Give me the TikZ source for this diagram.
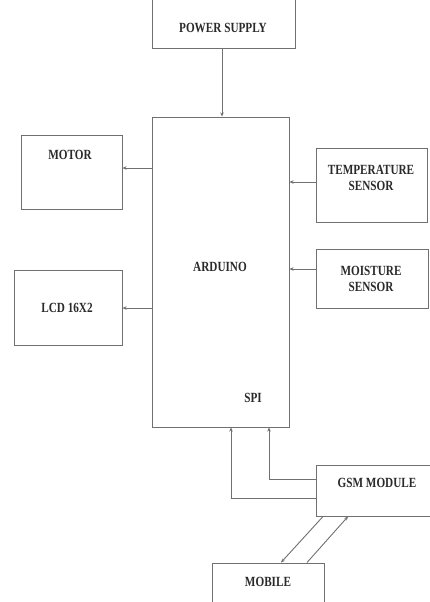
\documentclass[tikz,border=0pt]{standalone}
\usepackage{fontspec}
\setmainfont{Liberation Serif}[FakeStretch=0.8]
\usetikzlibrary{arrows.meta}
\definecolor{linegray}{HTML}{707070}
\definecolor{txtgray}{HTML}{2A2A2A}
\begin{document}
\begin{tikzpicture}[x=1pt,y=1pt,
  box/.style={draw=linegray, line width=1pt, inner sep=0pt, fill=none},
  lbl/.style={text=txtgray, font=\bfseries\fontsize{14}{16}\selectfont, align=center, inner sep=0pt},
  arr/.style={draw=linegray, line width=0.9pt, -{Stealth[length=4pt,width=3.5pt]}}]
\useasboundingbox (0,0) rectangle (429,-602);
\fill[white] (0,0) rectangle (429,-602);
% boxes
\node[box, minimum width=143pt, minimum height=60pt] (ps) at (223.5,-19) {};
\node[box, minimum width=137pt, minimum height=310pt] (ard) at (220.5,-272) {};
\node[box, minimum width=101pt, minimum height=74pt] (motor) at (71.5,-172) {};
\node[box, minimum width=111pt, minimum height=74pt] (temp) at (371.5,-185) {};
\node[box, minimum width=112pt, minimum height=59pt] (moist) at (372,-278.5) {};
\node[box, minimum width=108pt, minimum height=75pt] (lcd) at (68,-307.5) {};
\node[box, minimum width=116pt, minimum height=51pt] (gsm) at (374,-490.5) {};
\node[box, minimum width=112pt, minimum height=47pt] (mobile) at (268,-586.5) {};
% labels
\node[lbl] (tps) at (223,-28) {POWER SUPPLY};
\node[lbl] (tard) at (220,-267) {ARDUINO};
\node[lbl] (tspi) at (253,-398) {SPI};
\node[lbl] (tmotor) at (70,-155) {MOTOR};
\node[lbl] (ttemp) at (371,-178) {TEMPERATURE\\SENSOR};
\node[lbl] (tmoist) at (371,-279) {MOISTURE\\SENSOR};
\node[lbl] (tlcd) at (67,-308) {LCD 16X2};
\node[lbl] (tgsm) at (377,-483) {GSM MODULE};
\node[lbl] (tmob) at (268,-582) {MOBILE};
% connectors
\draw[arr] (ps.south -| 222,0) -- (ard.north -| 222,0);
\draw[arr] (ard.west |- 0,-168) -- (motor.east |- 0,-168);
\draw[arr] (ard.west |- 0,-308) -- (lcd.east |- 0,-308);
\draw[arr] (temp.west |- 0,-182) -- (ard.east |- 0,-182);
\draw[arr] (moist.west |- 0,-269) -- (ard.east |- 0,-269);
\draw[arr] (gsm.west |- 0,-479) -| (ard.south -| 269,0);
\draw[arr] (gsm.west |- 0,-498) -| (ard.south -| 231,0);
\draw[arr] (gsm.south -| 323,0) -- (mobile.north -| 281,0);
\draw[arr] (mobile.north -| 307,0) -- (gsm.south -| 348,0);
\end{tikzpicture}
\end{document}
